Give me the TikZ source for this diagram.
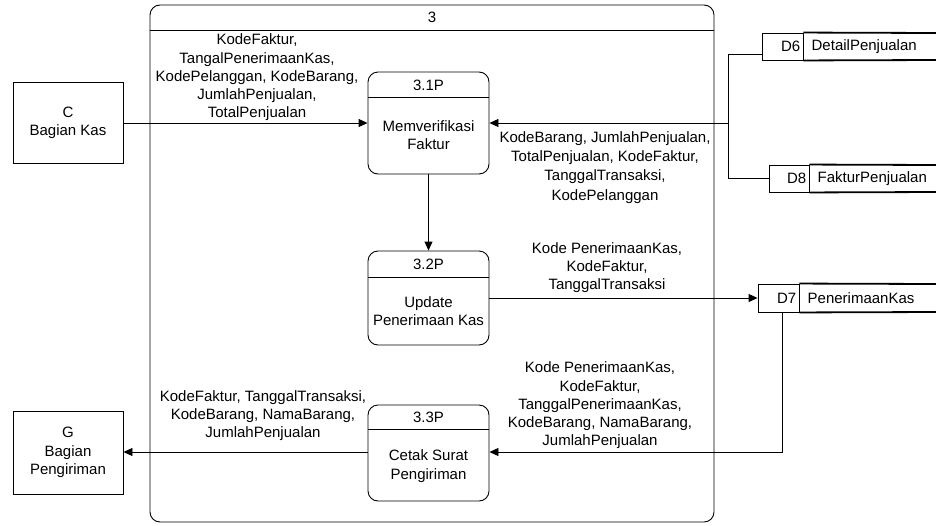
\documentclass[tikz,border=0pt]{standalone}
\usepackage{fontspec}
\setmainfont{Liberation Sans}
\usetikzlibrary{arrows.meta,calc}
\begin{document}
\begin{tikzpicture}[x=1pt,y=-1pt,
  every node/.style={font=\fontsize{15}{18.3}\selectfont, inner sep=0pt},
  ent/.style={draw, line width=0.9pt, minimum width=110pt, minimum height=#1, align=center},
  proc/.style={draw, line width=0.9pt, rounded corners=10pt, minimum width=121pt, minimum height=#1},
  lbl/.style={align=center},
  arr/.style={-{Triangle[length=9pt,width=8pt]}, line width=0.9pt},
  ln/.style={line width=0.9pt},
  idbox/.style={draw, line width=0.9pt, minimum height=27pt, minimum width=#1},
  storeline/.style={line width=1.8pt},
]
\useasboundingbox (0,0) rectangle (936,525);

% outer process 3
\node[draw, line width=0.9pt, rounded corners=10pt, minimum width=564pt, minimum height=517pt] (P3) at (432,263.5) {};
\draw[ln] (P3.west |- 0,30) -- (P3.east |- 0,30);
\node (P3t) at (432,17) {3};

% external entities
\node[ent=81pt] (C) at (68,123) {C\\Bagian Kas};
\node[ent=83pt] (G) at (68,452.5) {G\\Bagian\\Pengiriman};

% processes
\node[proc=102pt] (p1) at (428.5,123) {};
\draw[ln] (p1.west |- 0,97) -- (p1.east |- 0,97);
\node (p1id) at (428.5,85) {3.1P};
\node[lbl] (p1t) at (428.5,135) {Memverifikasi\\Faktur};

\node[proc=94pt] (p2) at (428.5,298) {};
\draw[ln] (p2.west |- 0,277) -- (p2.east |- 0,277);
\node (p2id) at (428.5,264) {3.2P};
\node[lbl] (p2t) at (428.5,311) {Update\\Penerimaan Kas};

\node[proc=96pt] (p3) at (428.5,453) {};
\draw[ln] (p3.west |- 0,429) -- (p3.east |- 0,429);
\node (p3id) at (428.5,417) {3.3P};
\node[lbl] (p3t) at (428.5,466) {Cetak Surat\\Pengiriman};

% data stores
\node[idbox=41pt] (d6) at (782.5,46.5) {};
\node[anchor=east] (d6n) at ($(d6.east)+(-3,0)$) {D6};
\node[anchor=west] (d6t) at ($(d6.east)+(8,0)$) {DetailPenjualan};
\draw[storeline] (d6.north east) -- (936,33);
\draw[storeline] (d6.south east) -- (936,60);

\node[idbox=40pt] (d8) at (789,178.5) {};
\node[anchor=east] (d8n) at ($(d8.east)+(-3,0)$) {D8};
\node[anchor=west] (d8t) at ($(d8.east)+(8,0)$) {FakturPenjualan};
\draw[storeline] (d8.north east) -- (936,165);
\draw[storeline] (d8.south east) -- (936,192);

\node[idbox=41pt, minimum height=28pt] (d7) at (778.5,298) {};
\node[anchor=east] (d7n) at ($(d7.east)+(-3,0)$) {D7};
\node[anchor=west] (d7t) at ($(d7.east)+(8,0)$) {PenerimaanKas};
\draw[storeline] (d7.north east) -- (936,284);
\draw[storeline] (d7.south east) -- (936,312);

% connectors
\draw[arr] (C) -- (p1);
\coordinate (jt) at (728,54);
\coordinate (j) at (728,123);
\coordinate (jb) at (728,178.5);
\draw[ln] (d6.west |- jt) -- (jt) -- (jb) -- (d8.west);
\draw[arr] (j) -- (p1.east |- j);
\draw[arr] (p1) -- (p2);
\draw[arr] (p2) -- (d7);
\coordinate (k) at (782,452);
\draw[arr] (d7.south -| k) -- (k) -- (p3.east |- k);
\draw[arr] (p3.west |- k) -- (G.east |- k);

% labels
\node[lbl] (l1) at (257,77.5) {KodeFaktur,\\TangalPenerimaanKas,\\KodePelanggan, KodeBarang,\\JumlahPenjualan,\\TotalPenjualan};
\node[lbl, font=\fontsize{15}{19.2}\selectfont] (l2) at (605,167.5) {KodeBarang, JumlahPenjualan,\\TotalPenjualan, KodeFaktur,\\TanggalTransaksi,\\KodePelanggan};
\node[lbl] (l3) at (607,267.5) {Kode PenerimaanKas,\\KodeFaktur,\\TanggalTransaksi};
\node[lbl] (l4) at (600,405.5) {Kode PenerimaanKas,\\KodeFaktur,\\TanggalPenerimaanKas,\\KodeBarang, NamaBarang,\\JumlahPenjualan};
\node[lbl] (l5) at (263,415.5) {KodeFaktur, TanggalTransaksi,\\KodeBarang, NamaBarang,\\JumlahPenjualan};
\end{tikzpicture}
\end{document}
